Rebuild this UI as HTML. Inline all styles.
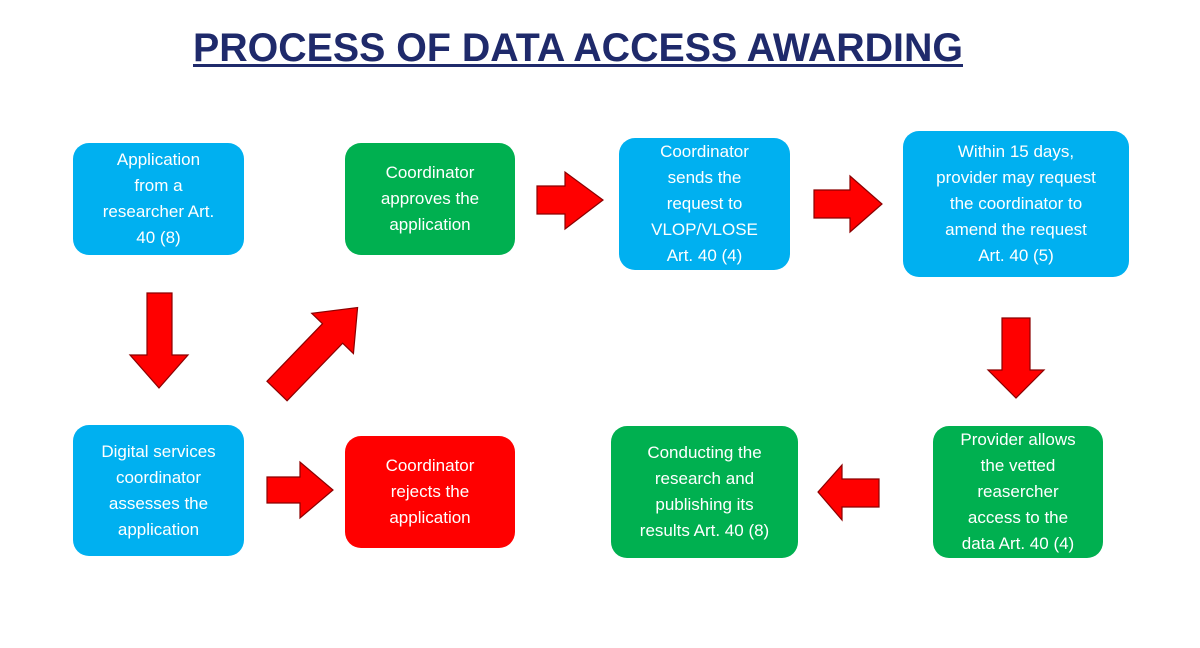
<!DOCTYPE html>
<html><head><meta charset="utf-8"><style>
body{margin:0;width:1200px;height:648px;background:#fff;position:relative;overflow:hidden;font-family:"Liberation Sans",sans-serif}
.b{position:absolute;border-radius:16px;color:#fff;display:flex;align-items:center;justify-content:center;text-align:center;font-size:17px;line-height:26px}
.bl{background:#00b0f0}.gr{background:#00b050}.rd{background:#ff0000}
svg{position:absolute;left:0;top:0}
</style></head><body>
<svg width="1200" height="648">
<text x="193" y="61" font-family="Liberation Sans" font-weight="bold" font-size="40" fill="#1f2a6b" textLength="770" lengthAdjust="spacingAndGlyphs">PROCESS OF DATA ACCESS AWARDING</text>
<rect x="193" y="64" width="770" height="3" fill="#1f2a6b"/>
<g fill="#ff0000" stroke="#8b0000" stroke-width="1.2">
<polygon points="147,293 172,293 172,355 188,355 159,388 130,355 147,355"/>
<polygon points="1002,318 1030,318 1030,370 1044,370 1016,398 988,370 1002,370"/>
<polygon points="537,186 565,186 565,172 603,200 565,229 565,214 537,214"/>
<polygon points="814,190 850,190 850,176 882,204 850,232 850,218 814,218"/>
<polygon points="267,477 300,477 300,462 333,490 300,518 300,503 267,503"/>
<polygon points="879,479 842,479 842,465 818,492 842,520 842,507 879,507"/>
<polygon transform="translate(277,391) rotate(-46)" points="0,-14 80,-14 80,-29 116,0 80,29 80,14 0,14"/>
</g>
</svg>
<div class="b bl" style="left:73px;top:143px;width:171px;height:112px">Application<br>from a<br>researcher Art.<br>40 (8)</div>
<div class="b gr" style="left:345px;top:143px;width:170px;height:112px">Coordinator<br>approves the<br>application</div>
<div class="b bl" style="left:619px;top:138px;width:171px;height:132px">Coordinator<br>sends the<br>request to<br>VLOP/VLOSE<br>Art. 40 (4)</div>
<div class="b bl" style="left:903px;top:131px;width:226px;height:146px">Within 15 days,<br>provider may request<br>the coordinator to<br>amend the request<br>Art. 40 (5)</div>
<div class="b gr" style="left:933px;top:426px;width:170px;height:132px">Provider allows<br>the vetted<br>reasercher<br>access to the<br>data Art. 40 (4)</div>
<div class="b gr" style="left:611px;top:426px;width:187px;height:132px">Conducting the<br>research and<br>publishing its<br>results Art. 40 (8)</div>
<div class="b rd" style="left:345px;top:436px;width:170px;height:112px">Coordinator<br>rejects the<br>application</div>
<div class="b bl" style="left:73px;top:425px;width:171px;height:131px">Digital services<br>coordinator<br>assesses the<br>application</div>
</body></html>
